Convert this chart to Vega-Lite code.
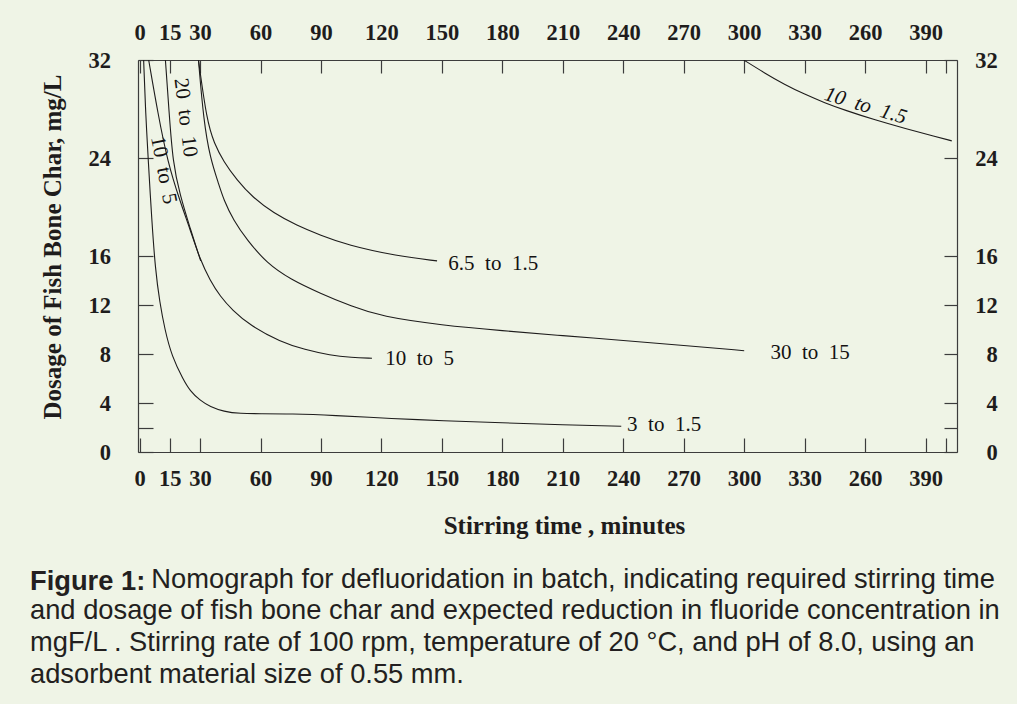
{
  "$schema": "https://vega.github.io/schema/vega-lite/v6.json",
  "width": 819,
  "height": 392,
  "autosize": {"type": "none"},
  "padding": {"left": 138, "top": 60, "right": 60, "bottom": 252},
  "background": "#eff4e6",
  "config": {"view": {"stroke": null}, "font": "Liberation Serif"},
  "title": {
    "text": "Figure 1:",
    "subtitle": [
      "\u200b\u00a0\u00a0\u00a0\u00a0\u00a0\u00a0\u00a0\u00a0\u00a0\u00a0\u00a0\u00a0\u00a0\u00a0\u00a0\u00a0Nomograph for defluoridation in batch, indicating required stirring time",
      "and dosage of fish bone char and expected reduction in fluoride concentration in",
      "mgF/L . Stirring rate of 100 rpm, temperature of 20 \u00b0C, and pH of 8.0, using an",
      "adsorbent material size of 0.55 mm."
    ],
    "orient": "bottom",
    "anchor": "start",
    "frame": "group",
    "dx": -108,
    "offset": 30,
    "font": "Liberation Sans",
    "fontSize": 27.3,
    "fontWeight": "bold",
    "color": "#231f20",
    "subtitleFont": "Liberation Sans",
    "subtitleFontSize": 27.3,
    "subtitleFontWeight": "normal",
    "subtitleColor": "#231f20",
    "subtitleLineHeight": 31.6,
    "lineHeight": 31.6,
    "subtitlePadding": -29.4
  },
  "datasets": {
    "curves": [
      {"curve": "A", "t": 2.0, "y": 32}, {"curve": "A", "t": 3.0, "y": 27.6}, {"curve": "A", "t": 4.3, "y": 23.8},
      {"curve": "A", "t": 6.0, "y": 19.0}, {"curve": "A", "t": 7.8, "y": 14.9}, {"curve": "A", "t": 10, "y": 12.2},
      {"curve": "A", "t": 12.5, "y": 10.0}, {"curve": "A", "t": 16, "y": 7.8}, {"curve": "A", "t": 21.7, "y": 5.9},
      {"curve": "A", "t": 25, "y": 5.0}, {"curve": "A", "t": 30, "y": 4.2}, {"curve": "A", "t": 35, "y": 3.7},
      {"curve": "A", "t": 41.7, "y": 3.3}, {"curve": "A", "t": 50, "y": 3.13}, {"curve": "A", "t": 60, "y": 3.13},
      {"curve": "A", "t": 75, "y": 3.12}, {"curve": "A", "t": 96, "y": 3.0}, {"curve": "A", "t": 126, "y": 2.72},
      {"curve": "A", "t": 150, "y": 2.56}, {"curve": "A", "t": 180, "y": 2.38}, {"curve": "A", "t": 210, "y": 2.22},
      {"curve": "A", "t": 239, "y": 2.1},
      {"curve": "B", "t": 4.5, "y": 32}, {"curve": "B", "t": 9, "y": 27.7}, {"curve": "B", "t": 14, "y": 23.6},
      {"curve": "B", "t": 20, "y": 20.5}, {"curve": "B", "t": 25, "y": 18.2}, {"curve": "B", "t": 30, "y": 15.7},
      {"curve": "B", "t": 35, "y": 14.0}, {"curve": "B", "t": 40, "y": 12.7}, {"curve": "B", "t": 45.9, "y": 11.6},
      {"curve": "B", "t": 55, "y": 10.3}, {"curve": "B", "t": 69.8, "y": 9.0}, {"curve": "B", "t": 82, "y": 8.35},
      {"curve": "B", "t": 94.6, "y": 7.9}, {"curve": "B", "t": 105, "y": 7.72}, {"curve": "B", "t": 115.3, "y": 7.65},
      {"curve": "C", "t": 12.8, "y": 32}, {"curve": "C", "t": 14.6, "y": 27.8}, {"curve": "C", "t": 16.5, "y": 23.6},
      {"curve": "C", "t": 20, "y": 21.0}, {"curve": "C", "t": 25, "y": 18.3}, {"curve": "C", "t": 30.3, "y": 15.6},
      {"curve": "D", "t": 29.2, "y": 32}, {"curve": "D", "t": 31.8, "y": 27.0}, {"curve": "D", "t": 35, "y": 24.0},
      {"curve": "D", "t": 39.2, "y": 21.9}, {"curve": "D", "t": 41.7, "y": 20.6}, {"curve": "D", "t": 46.6, "y": 18.9},
      {"curve": "D", "t": 53.3, "y": 17.3}, {"curve": "D", "t": 63.2, "y": 15.4}, {"curve": "D", "t": 74.8, "y": 14.1},
      {"curve": "D", "t": 89.7, "y": 12.95}, {"curve": "D", "t": 105, "y": 11.9}, {"curve": "D", "t": 120, "y": 11.05},
      {"curve": "D", "t": 150, "y": 10.35}, {"curve": "D", "t": 180, "y": 9.9}, {"curve": "D", "t": 210, "y": 9.5},
      {"curve": "D", "t": 240, "y": 9.1}, {"curve": "D", "t": 270, "y": 8.7}, {"curve": "D", "t": 300, "y": 8.27},
      {"curve": "E", "t": 29.2, "y": 32}, {"curve": "E", "t": 33.4, "y": 27.0}, {"curve": "E", "t": 37, "y": 25.2},
      {"curve": "E", "t": 41.7, "y": 23.7}, {"curve": "E", "t": 48.3, "y": 22.2}, {"curve": "E", "t": 56, "y": 20.8},
      {"curve": "E", "t": 66.5, "y": 19.5}, {"curve": "E", "t": 78, "y": 18.5}, {"curve": "E", "t": 89.7, "y": 17.7},
      {"curve": "E", "t": 103, "y": 16.9}, {"curve": "E", "t": 127.7, "y": 16.0}, {"curve": "E", "t": 147.6, "y": 15.6},
      {"curve": "F", "t": 299.8, "y": 32}, {"curve": "F", "t": 310, "y": 30.95}, {"curve": "F", "t": 320, "y": 30.0},
      {"curve": "F", "t": 330, "y": 29.2}, {"curve": "F", "t": 340, "y": 28.5}, {"curve": "F", "t": 350, "y": 27.9},
      {"curve": "F", "t": 365, "y": 27.1}, {"curve": "F", "t": 380, "y": 26.4}, {"curve": "F", "t": 395, "y": 25.75},
      {"curve": "F", "t": 403, "y": 25.4}
    ],
    "labels": [
      {"curve": "E", "label": "6.5\u00a0\u00a0to\u00a0\u00a01.5", "t": 153.2, "y": 14.86},
      {"curve": "B", "label": "10\u00a0\u00a0to\u00a0\u00a05", "t": 121.9, "y": 7.1},
      {"curve": "D", "label": "30\u00a0\u00a0to\u00a0\u00a015", "t": 313, "y": 7.59},
      {"curve": "A", "label": "3\u00a0\u00a0to\u00a0\u00a01.5", "t": 241.9, "y": 1.74},
      {"curve": "C", "label": "20\u00a0\u00a0to\u00a0\u00a010", "t": 22.7, "y": 27.3},
      {"curve": "A2", "label": "10\u00a0\u00a0to\u00a0\u00a05", "t": 11.8, "y": 23.0},
      {"curve": "F", "label": "10\u00a0\u00a0to\u00a0\u00a01.5", "t": 360.2, "y": 28.24}
    ]
  },
  "resolve": {"axis": {"x": "independent", "y": "independent"}},
  "layer": [
    {
      "data": {"name": "curves"},
      "mark": {"type": "line", "interpolate": "basis", "stroke": "#1e1c1c", "strokeWidth": 1.1, "clip": true},
      "encoding": {
        "x": {
          "field": "t", "type": "quantitative",
          "scale": {"domain": [-0.8, 405.6], "nice": false, "zero": false},
          "axis": {
            "orient": "bottom",
            "values": [0, 15, 30, 60, 90, 120, 150, 180, 210, 240, 270, 300, 330, 360, 390, 400],
            "labelExpr": "datum.value == 360 ? '260' : (datum.value == 400 ? '' : datum.label)",
            "tickSize": -14, "labelPadding": 29.6, "labelOverlap": false, "labelFlush": false,
            "domainColor": "#3c3c3c", "tickColor": "#3c3c3c", "domainWidth": 1.2, "tickWidth": 1.2,
            "labelFont": "Liberation Serif", "labelFontWeight": "bold", "labelFontSize": 22.5, "labelColor": "#1e1c1c",
            "grid": false,
            "title": "Stirring time , minutes",
            "titleFont": "Liberation Serif", "titleFontWeight": "bold", "titleFontSize": 25, "titleColor": "#1e1c1c",
            "titleX": 426, "titleY": 73, "titleBaseline": "middle", "titleAlign": "center"
          }
        },
        "y": {
          "field": "y", "type": "quantitative",
          "scale": {"domain": [0, 32], "nice": false},
          "axis": {
            "orient": "left",
            "values": [0, 2, 4, 8, 12, 16, 24, 32],
            "labelExpr": "datum.value == 2 ? '' : datum.label",
            "tickSize": -15, "labelPadding": 42.4, "labelOverlap": false, "labelFlush": false,
            "domainColor": "#3c3c3c", "tickColor": "#3c3c3c", "domainWidth": 1.2, "tickWidth": 1.2,
            "labelFont": "Liberation Serif", "labelFontWeight": "bold", "labelFontSize": 22.5, "labelColor": "#1e1c1c",
            "grid": false,
            "title": "Dosage of Fish Bone Char, mg/L",
            "titleFont": "Liberation Serif", "titleFontWeight": "bold", "titleFontSize": 25, "titleColor": "#1e1c1c",
            "titleX": -86, "titleY": 186.5, "titleAngle": 270, "titleBaseline": "middle", "titleAlign": "center"
          }
        },
        "detail": {"field": "curve", "type": "nominal"}
      }
    },
    {
      "data": {"name": "labels"},
      "transform": [{"filter": "indexof(['E','B','D','A'], datum.curve) >= 0"}],
      "mark": {"type": "text", "align": "left", "baseline": "alphabetic", "font": "Liberation Serif", "fontSize": 21, "color": "#141212"},
      "encoding": {
        "x": {
          "field": "t", "type": "quantitative",
          "axis": {
            "orient": "top",
            "values": [0, 15, 30, 60, 90, 120, 150, 180, 210, 240, 270, 300, 330, 360, 390, 400],
            "labelExpr": "datum.value == 360 ? '260' : (datum.value == 400 ? '' : datum.label)",
            "tickSize": -13, "labelPadding": 28.2, "labelOverlap": false, "labelFlush": false,
            "domainColor": "#3c3c3c", "tickColor": "#3c3c3c", "domainWidth": 1.2, "tickWidth": 1.2,
            "labelFont": "Liberation Serif", "labelFontWeight": "bold", "labelFontSize": 22.5, "labelColor": "#1e1c1c",
            "grid": false, "title": null
          }
        },
        "y": {
          "field": "y", "type": "quantitative",
          "axis": {
            "orient": "right",
            "values": [0, 2, 4, 8, 12, 16, 24, 32],
            "labelExpr": "datum.value == 2 ? '' : datum.label",
            "tickSize": -13, "labelPadding": 53.3, "labelAlign": "right", "labelOverlap": false, "labelFlush": false,
            "domainColor": "#3c3c3c", "tickColor": "#3c3c3c", "domainWidth": 1.2, "tickWidth": 1.2,
            "labelFont": "Liberation Serif", "labelFontWeight": "bold", "labelFontSize": 22.5, "labelColor": "#1e1c1c",
            "grid": false, "title": null
          }
        },
        "text": {"field": "label", "type": "nominal"}
      }
    },
    {
      "data": {"name": "labels"},
      "transform": [{"filter": "datum.curve == 'C'"}],
      "mark": {"type": "text", "align": "center", "baseline": "middle", "angle": 83, "font": "Liberation Serif", "fontSize": 21, "color": "#141212"},
      "encoding": {
        "x": {"field": "t", "type": "quantitative", "axis": null},
        "y": {"field": "y", "type": "quantitative", "axis": null},
        "text": {"field": "label", "type": "nominal"}
      }
    },
    {
      "data": {"name": "labels"},
      "transform": [{"filter": "datum.curve == 'A2'"}],
      "mark": {"type": "text", "align": "center", "baseline": "middle", "angle": 79, "font": "Liberation Serif", "fontSize": 21, "color": "#141212"},
      "encoding": {
        "x": {"field": "t", "type": "quantitative", "axis": null},
        "y": {"field": "y", "type": "quantitative", "axis": null},
        "text": {"field": "label", "type": "nominal"}
      }
    },
    {
      "data": {"name": "labels"},
      "transform": [{"filter": "datum.curve == 'F'"}],
      "mark": {"type": "text", "align": "center", "baseline": "middle", "angle": 17, "font": "Liberation Serif", "fontStyle": "italic", "fontSize": 21, "color": "#141212"},
      "encoding": {
        "x": {"field": "t", "type": "quantitative", "axis": null},
        "y": {"field": "y", "type": "quantitative", "axis": null},
        "text": {"field": "label", "type": "nominal"}
      }
    }
  ]
}
